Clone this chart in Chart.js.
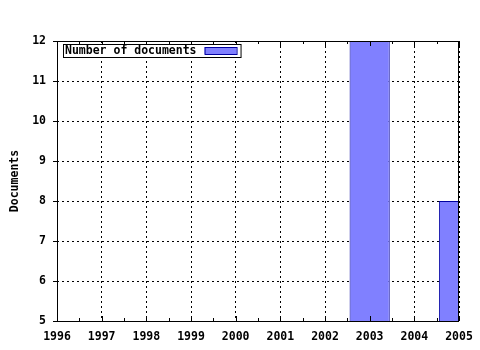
<!DOCTYPE html>
<html>
<head>
<meta charset="utf-8">
<script src="https://cdn.jsdelivr.net/npm/chart.js@4/dist/chart.umd.min.js"></script>
<style>
  html, body { margin: 0; padding: 0; background: #fff; }
  #wrap { width: 480px; height: 350px; }
</style>
</head>
<body>
<div id="wrap"><canvas id="chart" width="480" height="350"></canvas></div>
<script>
// data
const years = [1996, 1997, 1998, 1999, 2000, 2001, 2002, 2003, 2004, 2005];
const documents = [null, null, null, null, null, null, null, 12, null, 8];
const yTicks = [5, 6, 7, 8, 9, 10, 11, 12];
const seriesLabel = 'Number of documents';
const yTitle = 'Documents';

const FONT = { family: '"DejaVu Sans Mono", monospace', size: 11.5, weight: 'bold' };

// frame round the plot, small inward ticks on x, legend box
const framePlugin = {
    id: 'frame',
    afterDatasetsDraw(chart) {
        const ctx = chart.ctx;
        const a = chart.chartArea;
        const xs = chart.scales.x;
        ctx.save();
        ctx.strokeStyle = '#000';
        ctx.lineWidth = 1;
        ctx.setLineDash([]);
        ctx.strokeRect(Math.round(a.left) + 0.5, Math.round(a.top) + 0.5,
                       Math.round(a.right - a.left) - 1, Math.round(a.bottom - a.top));

        // major + minor ticks pointing inwards
        ctx.beginPath();
        for (let i = 0; i < years.length; i++) {
            const px = Math.round(xs.getPixelForValue(years[i])) + 0.5;
            ctx.moveTo(px, a.top); ctx.lineTo(px, a.top + 5);
            ctx.moveTo(px, a.bottom); ctx.lineTo(px, a.bottom - 5);
            if (i < years.length - 1) {
                const mx = Math.round(xs.getPixelForValue(years[i] + 0.5)) + 0.5;
                ctx.moveTo(mx, a.top); ctx.lineTo(mx, a.top + 3);
                ctx.moveTo(mx, a.bottom); ctx.lineTo(mx, a.bottom - 3);
            }
        }
        ctx.stroke();

        // legend
        const ds = chart.data.datasets[0];
        ctx.font = FONT.weight + ' ' + FONT.size + 'px ' + FONT.family;
        ctx.textBaseline = 'middle';
        ctx.textAlign = 'left';
        const lx = Math.round(a.left) + 6;
        const ly = Math.round(a.top) + 3;
        const tw = ctx.measureText(ds.label).width;
        const boxW = tw + 8 + 32 + 6;
        ctx.fillStyle = '#fff';
        ctx.fillRect(lx, ly, boxW, 13);
        ctx.strokeRect(lx + 0.5, ly + 0.5, boxW, 13);
        ctx.fillStyle = '#000';
        ctx.fillText(ds.label, lx + 2, ly + 7);
        const sx = lx + tw + 10;
        ctx.fillStyle = ds.backgroundColor;
        ctx.fillRect(sx, ly + 3, 32, 7);
        ctx.strokeStyle = ds.borderColor;
        ctx.strokeRect(sx + 0.5, ly + 3.5, 32, 7);
        ctx.restore();
    }
};

function createChart() {
    const ctx = document.getElementById('chart').getContext('2d');
    new Chart(ctx, {
        type: 'bar',
        data: {
            datasets: [{
                label: seriesLabel,
                data: years.map((y, i) => ({ x: y, y: documents[i] })),
                backgroundColor: '#8080ff',
                borderColor: '#0000a0',
                borderWidth: 1,
                borderSkipped: 'bottom',
                categoryPercentage: 1,
                barPercentage: 0.9
            }]
        },
        options: {
            responsive: false,
            animation: false,
            layout: { padding: { top: 41, right: 21, left: 0, bottom: 0 } },
            plugins: {
                legend: { display: false },
                tooltip: { enabled: false }
            },
            scales: {
                x: {
                    type: 'linear',
                    min: years[0],
                    max: years[years.length - 1],
                    offset: false,
                    border: { display: false, dash: [2, 3] },
                    grid: {
                        color: '#000',
                        offset: false,
                        drawTicks: false
                    },
                    ticks: {
                        stepSize: 1,
                        autoSkip: false,
                        maxRotation: 0,
                        padding: 9,
                        color: '#000',
                        font: FONT,
                        callback: v => String(v)
                    },
                    afterBuildTicks: s => { s.ticks = years.map(v => ({ value: v })); },
                    afterFit: s => { s.height = 29; s.paddingLeft = 0; s.paddingRight = 0; }
                },
                y: {
                    min: yTicks[0],
                    max: yTicks[yTicks.length - 1],
                    border: { display: false, dash: [2, 3] },
                    grid: {
                        color: '#000',
                        tickLength: 4,
                        tickColor: '#000',
                        tickBorderDash: []
                    },
                    ticks: {
                        stepSize: 1,
                        padding: 7,
                        color: '#000',
                        font: FONT
                    },
                    afterBuildTicks: s => { s.ticks = yTicks.map(v => ({ value: v })); },
                    afterFit: s => { s.width = 57; s.paddingTop = 0; s.paddingBottom = 0; },
                    title: {
                        display: true,
                        text: yTitle,
                        color: '#000',
                        font: FONT,
                        padding: { top: 8, bottom: 4 }
                    }
                }
            }
        },
        plugins: [framePlugin]
    });
}

document.addEventListener('DOMContentLoaded', createChart);
</script>
</body>
</html>
